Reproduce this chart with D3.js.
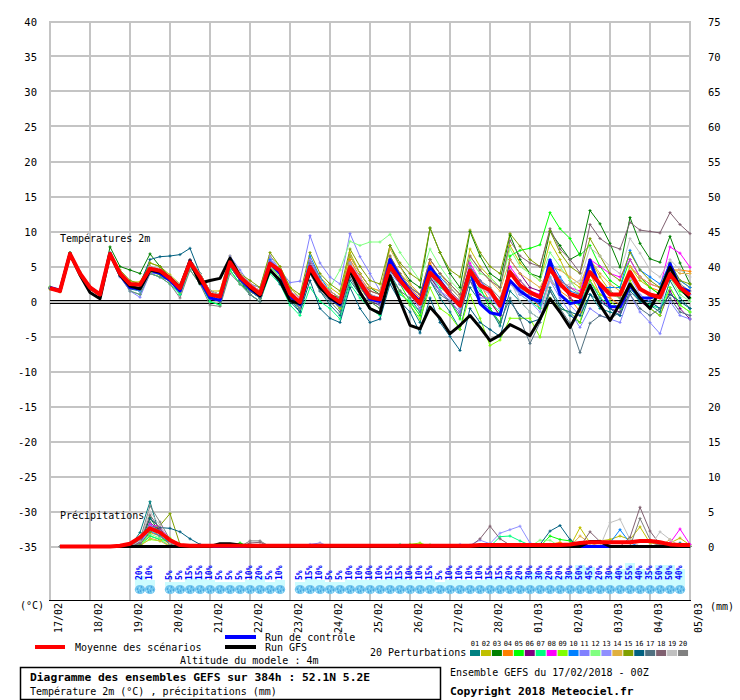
<!DOCTYPE html>
<html>
<head>
<meta charset="utf-8">
<script src="https://cdn.jsdelivr.net/npm/d3@7"></script>
<style>
  body { margin: 0; background: #fff; }
  text { font-family: "DejaVu Sans Mono", monospace; }
</style>
</head>
<body>
<div id="chart"></div>
<script>
/*global d3*/

// ---- data (6-hourly steps, 17/02 00Z -> 05/03 00Z) ----
const hours = d3.range(0, 385, 6)

const dateLabels = ["17/02","18/02","19/02","20/02","21/02","22/02","23/02","24/02","25/02",
  "26/02","27/02","28/02","01/03","02/03","03/03","04/03","05/03"]
const leftTicks = [40,35,30,25,20,15,10,5,0,-5,-10,-15,-20,-25,-30,-35]
const rightTicks = [75,70,65,60,55,50,45,40,35,30,25,20,15,10,5,0]

const memberNames = ["01","02","03","04","05","06","07","08","09","10","11","12","13","14","15","16","17","18","19","20"]
const memberColors = ["#008080","#c0c000","#008000","#ff8000","#00ff00","#800080","#00ff80","#ff00ff","#80ff00","#0080ff",
  "#8080ff","#80ff80","#9090ff","#e0b040","#80a000","#006080","#507080","#806070","#c0c0c0","#808080"]

// temperature 2m (°C)
const tMean = [1.9,1.5,6.8,4.0, 2.0,1.0,6.8,4.0, 2.5,2.4,4.7,4.4, 3.3,1.9,5.6,3.5, 1.0,0.7,5.6,3.5, 2.2,1.1,5.4,4.4,
  1.1,-0.1,4.9,2.6, 0.9,-0.1,4.9,2.7, 0.6,0.3,5.1,3.0, 1.3,-0.3,4.1,2.7, 0.9,-0.6,4.4,2.3, 1.6,-0.6,4.2,2.3,
  1.3,0.6,4.7,2.5, 1.1,0.6,4.2,2.5, 1.0,1.0,4.2,1.8, 1.0,0.6,3.9,2.0, 0.9]
const tControl = [2.0,1.6,6.8,4.0, 2.0,1.0,6.9,3.8, 2.0,1.8,4.5,4.0, 3.0,1.5,5.8,3.0, 0.5,0.2,5.8,3.3, 1.8,0.8,5.5,4.0,
  0.8,-0.5,5.0,2.2, 0.5,-0.5,4.8,2.5, 0.3,0.0,6.0,3.5, 1.5,0.0,5.0,3.0, 1.0,-0.5,4.5,-0.3, -1.6,-1.9,3.0,1.5,
  0.5,0.0,5.9,1.0, -0.3,0.0,5.9,2.0, -0.7,-0.8,2.3,0.5, 0.5,1.0,5.4,2.0, 1.4]
const tGfs = [1.9,1.5,6.8,3.8, 1.3,0.4,6.8,3.8, 2.2,1.8,4.5,4.2, 3.4,2.0,5.8,2.6, 3.0,3.3,6.2,3.6, 2.0,0.8,4.5,3.0,
  0.1,-0.3,4.4,2.0, 0.5,-0.3,4.4,1.3, -1.0,-1.7,3.7,0.1, -3.4,-3.9,-0.8,-2.4, -4.6,-3.4,-2.0,-3.7, -5.6,-4.8,-3.3,-4.0,
  -4.9,-2.5,0.4,-1.5, -3.7,-1.0,2.3,-0.5, -2.7,-0.3,2.5,0.5, -1.0,1.5,4.9,2.0, 0.4]

const t01 = [2.0,1.6,6.9,4.0, 1.9,0.8,6.9,3.6, 1.8,1.5,4.0,3.5, 3.0,1.0,5.5,3.0, 0.5,0.0,6.0,3.5, 1.5,0.5,5.0,3.5, 0.5,-1.5,4.0,1.5, -0.5,-2.0,3.0,1.0, -1.0,-1.5,4.0,1.5, -0.5,-3.0,3.0,0.5, -1.5,-4.0,2.0,0.0, -1.0,-3.5,1.5,0.0, -1.5,-2.5,2.0,-0.5, -2.0,-3.0,1.0,-1.0, -1.5,-2.0,2.5,0.0, -0.5,-1.5,3.0,0.5, -1.0]
const t02 = [1.8,1.5,6.8,4.1, 2.1,1.2,6.6,4.2, 2.8,2.8,5.5,5.0, 3.8,2.5,6.0,4.0, 1.5,1.5,6.5,4.0, 2.5,2.0,6.5,5.0, 2.0,0.5,6.0,3.5, 2.0,1.0,7.0,4.0, 2.0,1.5,6.5,4.0, 2.5,1.0,6.0,4.0, 2.5,1.0,7.5,5.0, 3.5,2.0,8.0,5.5, 4.0,3.0,8.5,6.0, 3.0,2.0,6.0,3.5, 1.5,0.5,5.0,3.0, 2.0,1.0,4.5,3.0, 2.0]
const t03 = [2.0,1.5,7.0,4.2, 2.1,1.0,7.8,5.0, 4.5,4.0,6.8,5.0, 3.5,2.0,6.0,4.0, 1.5,1.0,5.0,3.0, 1.5,0.5,5.5,4.0, 1.5,0.0,6.0,3.0, 1.0,0.5,6.5,4.0, 2.0,1.0,8.0,5.0, 3.0,2.0,10.5,7.0, 4.0,2.0,10.0,6.5, 4.0,3.0,9.5,6.0, 4.0,3.5,10.0,8.0, 6.0,6.8,13.0,11.1, 8.3,4.9,12.0,8.3, 6.1,5.6,9.3,5.5, 2.5]
const t04 = [1.9,1.4,6.7,3.9, 1.8,0.9,6.9,4.1, 2.2,1.8,4.5,4.0, 3.0,1.5,5.5,3.5, 0.8,0.5,5.8,3.8, 2.0,1.0,5.0,4.0, 1.0,-0.5,5.0,3.0, 1.0,0.0,6.0,3.5, 1.5,1.0,6.0,3.5, 2.0,0.5,5.5,3.0, 1.5,0.0,5.0,2.5, 0.0,-2.0,4.0,2.0, 1.0,-1.0,3.0,1.5, 0.5,-1.5,4.0,1.0, 0.5,-0.5,5.0,3.5, 2.0,1.5,4.5,4.5, 4.3]
const t05 = [2.1,1.7,6.9,4.1, 2.0,1.1,6.5,3.8, 2.0,1.5,4.5,4.0, 3.0,1.5,5.0,3.0, 0.0,-0.5,4.5,2.5, 1.5,0.5,5.0,3.5, 0.5,-1.0,4.5,2.0, 0.5,-0.5,5.0,2.5, 0.0,-0.5,4.5,2.5, 0.0,-2.0,3.5,1.5, 0.0,-2.5,4.5,2.0, -1.0,-3.0,6.5,7.3, 7.6,8.1,12.7,10.4, 9.0,6.6,8.0,5.0, 3.0,2.0,6.0,3.5, 2.0,1.0,4.0,1.5, 0.5]
const t06 = [1.9,1.5,6.8,4.0, 2.0,1.0,6.8,4.0, 2.5,2.0,5.0,4.5, 3.5,2.0,6.0,3.5, 1.0,0.5,5.5,3.5, 2.5,1.5,5.5,4.5, 1.5,0.0,5.0,2.5, 0.5,-1.0,4.0,2.0, 0.0,-0.5,4.5,2.5, 1.0,-1.0,3.5,1.5, 0.0,-1.5,3.0,1.0, 0.0,-2.0,6.0,4.0, 2.0,1.5,5.5,3.0, 0.5,-0.5,3.0,0.5, -1.0,-1.5,2.0,0.0, -1.0,-2.0,1.5,-1.0, -2.5]
const t07 = [1.9,1.5,6.8,3.8, 1.9,0.8,6.7,3.7, 1.5,1.0,4.0,3.5, 2.5,1.0,4.5,2.5, 0.0,-0.5,4.5,2.5, 1.0,0.0,4.0,2.5, -0.5,-2.0,2.0,0.0, -1.0,-2.5,2.5,0.5, -1.0,-2.0,3.0,1.0, 0.0,-1.5,4.0,2.0, 1.0,-1.0,3.5,1.5, 0.0,-1.5,3.0,1.0, 0.0,-1.0,3.5,1.0, 0.0,-0.5,3.0,0.5, -0.5,-1.0,2.0,0.0, -0.5,-1.0,2.0,-0.5, -1.5]
const t08 = [1.9,1.6,6.8,4.0, 2.0,1.0,6.8,4.2, 2.6,2.5,4.8,4.5, 3.5,2.0,5.5,3.5, 1.5,1.0,6.0,4.0, 2.5,1.5,6.0,4.5, 1.5,0.5,6.0,3.0, 1.5,0.5,5.5,3.5, 1.0,0.5,5.5,3.5, 1.5,0.0,5.0,3.0, 1.5,0.0,5.5,3.0, 1.0,-0.5,5.0,3.0, 1.5,1.0,5.0,3.0, 2.0,1.5,6.0,5.0, 4.0,3.5,6.0,3.5, 2.5,2.0,7.8,6.9, 4.9]
const t09 = [1.8,1.4,6.7,3.9, 1.8,0.7,6.6,3.8, 2.0,1.8,4.2,3.8, 2.8,1.3,5.0,3.0, 0.5,0.0,5.0,3.0, 1.5,0.5,5.0,3.5, 0.5,-1.0,4.5,2.0, 0.5,-1.0,4.0,2.0, 0.0,-1.0,3.5,1.5, -0.5,-2.5,2.0,-1.0, -2.0,-4.0,1.0,-2.4, -6.3,-5.5,-2.4,-2.4, -2.4,-5.1,0.5,-1.0, -1.5,-3.0,3.0,1.0, 0.0,-1.0,3.0,0.5, -1.0,-2.0,2.0,-0.5, -1.5]
const t10 = [1.9,1.5,6.9,4.0, 2.0,1.1,6.9,3.9, 2.0,1.5,4.8,4.3, 3.2,1.8,5.8,3.2, 0.5,0.2,5.5,3.5, 2.0,1.0,6.0,4.5, 1.5,0.0,6.5,3.5, 1.5,0.5,5.5,3.0, 1.0,0.5,6.0,3.5, 2.0,1.0,5.0,3.5, 2.0,0.5,5.0,3.0, 1.5,0.0,4.0,2.0, 0.5,-0.5,6.0,3.5, 1.5,1.0,4.0,2.0, 2.0,2.0,7.3,4.5, 3.5,2.5,5.5,3.0, 2.0]
const t11 = [1.9,1.5,6.8,4.0, 2.0,1.0,6.8,3.5, 1.5,0.6,4.0,4.0, 3.0,1.5,6.0,4.0, 1.5,1.0,6.5,4.5, 2.5,2.0,6.5,4.5, 2.7,2.9,9.4,5.5, 3.5,2.5,9.7,6.4, 4.0,1.5,5.5,3.0, 1.5,0.0,4.0,1.5, 0.0,-1.5,3.0,0.5, 0.5,-1.0,2.5,1.0, 1.0,0.5,3.0,0.5, -1.5,-3.7,-1.0,-2.0, -2.5,-3.0,1.0,-1.5, -3.0,-4.6,0.0,-2.0, -2.5]
const t12 = [1.9,1.5,6.8,4.0, 2.0,1.0,6.8,4.0, 2.5,2.2,4.5,4.0, 3.0,1.5,5.5,3.5, 1.0,0.5,5.5,3.5, 2.0,1.0,5.0,3.5, 1.0,-0.5,4.0,2.0, 2.0,4.5,8.6,8.0, 8.5,8.5,9.6,7.0, 5.0,3.0,7.5,5.0, 3.0,1.5,6.0,4.0, 3.5,2.0,7.5,5.0, 4.0,3.0,7.0,5.0, 3.0,1.0,5.0,2.5, 1.0,0.5,4.5,2.0, 0.5,0.0,3.5,1.0, 0.0]
const t13 = [2.0,1.6,6.8,4.0, 1.9,1.0,6.9,4.0, 2.0,1.5,4.5,4.0, 3.0,1.5,5.0,3.0, 0.5,0.0,5.0,3.0, 1.5,0.5,5.0,4.0, 1.0,-1.0,6.0,3.0, 1.0,0.0,5.0,2.5, 0.5,-0.5,4.0,2.5, 1.0,-1.0,3.0,1.5, 0.5,-1.0,4.0,2.0, 1.0,-1.0,3.0,1.0, 0.0,-1.5,3.5,1.0, -0.5,-2.0,2.5,0.0, -1.0,-2.0,3.5,1.0, 0.0,-1.0,4.5,2.0, 1.0]
const t14 = [1.9,1.5,6.8,4.1, 2.0,1.0,6.7,4.0, 2.5,2.0,4.5,4.5, 3.5,2.0,5.5,3.5, 1.0,1.0,6.0,4.0, 2.5,1.5,5.5,4.5, 1.5,0.0,5.0,3.0, 1.5,0.5,6.5,4.0, 2.0,1.5,7.5,5.0, 2.5,1.0,6.0,4.0, 2.0,0.5,6.5,4.5, 3.0,1.5,6.0,4.0, 3.0,2.0,5.0,4.5, 3.5,2.5,6.0,4.0, 2.5,1.5,5.0,3.5, 2.5,2.0,5.0,4.0, 4.0]
const t15 = [2.0,1.5,6.9,4.1, 2.0,1.0,6.9,4.5, 3.0,2.5,5.5,5.0, 3.5,2.0,6.0,4.0, 1.5,1.0,6.0,4.0, 3.0,2.0,7.0,5.0, 2.0,1.0,7.0,4.0, 2.5,1.5,7.5,5.0, 3.0,2.5,8.0,5.5, 4.0,3.0,10.5,7.0, 4.5,3.5,10.2,7.0, 5.0,4.0,9.7,7.9, 6.0,5.0,10.1,7.0, 5.0,4.0,9.0,6.5, 4.0,3.0,7.0,4.5, 3.0,2.0,5.5,3.0, 2.5]
const t16 = [1.9,1.5,6.8,4.0, 2.0,1.0,6.8,4.0, 2.5,2.5,6.0,6.4, 6.5,6.7,7.6,4.0, 1.0,0.0,5.0,3.0, 1.0,0.0,4.5,2.5, 0.0,-1.5,3.0,-1.0, -2.4,-3.0,2.0,-1.0, -3.0,-2.5,2.5,0.0, -1.5,-4.5,0.5,-3.0, -5.0,-7.0,-1.0,-3.0, -4.0,-5.0,0.0,-2.0, -3.0,-2.5,1.5,-1.0, -1.5,-2.0,1.0,0.0, -1.0,-2.0,1.5,0.0, 0.0,-1.0,1.0,0.0, -1.0]
const t17 = [1.9,1.5,6.7,4.0, 1.9,0.9,6.8,4.0, 2.3,2.0,4.5,4.2, 3.0,1.5,5.0,3.0, 0.5,0.0,5.0,3.0, 1.5,0.5,4.5,3.0, 0.5,-1.0,4.0,1.5, 0.0,-1.5,3.5,1.0, 0.0,-1.0,3.5,1.5, 0.5,-1.5,3.0,1.0, 0.0,-2.0,3.0,0.0, -1.5,-3.0,0.5,-2.5, -6.0,-3.0,1.6,-1.0, -3.1,-7.3,-3.1,-2.0, -2.5,-1.5,1.0,-1.0, -2.0,-1.0,0.5,-1.5, -2.0]
const t18 = [1.9,1.5,6.8,4.0, 2.0,1.0,6.8,4.0, 2.5,2.0,5.0,4.5, 3.5,2.0,6.0,3.5, 1.0,0.5,5.5,3.5, 2.0,1.0,5.5,4.0, 1.5,0.0,5.5,3.0, 1.0,0.0,5.5,3.0, 1.5,1.0,6.5,4.0, 2.0,1.0,6.0,4.0, 2.5,1.0,6.5,4.5, 3.0,2.0,8.7,6.5, 5.5,5.0,10.4,7.5, 6.0,4.1,11.0,9.0, 8.0,7.5,11.3,10.2, 10.0,9.8,12.7,11.0, 9.7]
const t19 = [1.9,1.5,6.8,4.0, 2.0,1.0,6.8,4.0, 2.5,2.0,5.0,4.5, 3.5,2.5,6.0,4.0, 1.5,1.0,6.0,4.0, 2.5,1.5,5.5,4.5, 1.5,0.5,5.0,3.0, 1.0,0.0,5.5,3.5, 1.0,0.5,5.5,3.0, 1.0,-0.5,5.0,3.0, 1.0,-0.5,4.5,2.0, 1.0,-0.5,3.0,0.0, -1.5,-2.5,3.0,2.0, 2.5,3.0,7.7,6.5, 5.0,4.0,9.0,6.9, 4.5,3.5,6.0,4.5, 3.5]
const t20 = [1.9,1.4,6.9,4.0, 1.8,0.7,6.7,3.6, 1.5,1.0,4.0,3.5, 2.5,0.5,4.5,2.5, -0.5,-0.7,4.0,2.5, 1.0,0.0,4.5,3.0, 0.5,-1.0,4.5,2.0, 0.5,-0.5,4.5,2.5, 1.0,0.0,5.0,3.0, 1.5,0.0,4.5,3.0, 1.5,0.0,5.0,3.0, 2.0,0.5,4.5,3.0, 1.5,0.5,5.0,3.0, 2.0,1.0,5.0,2.5, 1.5,0.5,4.0,2.0, 1.0,0.5,4.0,2.5, 1.5]
const tMembers = [t01,t02,t03,t04,t05,t06,t07,t08,t09,t10,t11,t12,t13,t14,t15,t16,t17,t18,t19,t20]

// precipitation (mm per 6h), first step has no value
const pMean = [null,0,0,0,0,0,0,0.1, 0.4,1.3,2.6,2.0,0.9,0.2,0.1,0.1, 0.1,0.1,0.1,0.1,0.1,0.1,0.1,0.1, 0.1,0.1,0.1,0.1,0.1,0.1,0.1,0.1,
  0.1,0.1,0.1,0.1,0.1,0.1,0.1,0.1, 0.1,0.1,0.1,0.2,0.2,0.2,0.2,0.2, 0.2,0.2,0.2,0.2,0.3,0.5,0.6,0.6, 0.6,0.6,0.6,0.8,0.8,0.6,0.3,0.2, 0.2]
const pControl = [null,0,0,0,0,0,0,0, 0,0,0,0,0,0,0,0, 0,0,0,0,0,0,0,0, 0,0,0,0,0,0,0,0,
  0,0,0,0,0,0,0,0, 0,0,0,0,0,0,0,0, 0,0,0,0,0,0,0,0, 0,0,0,0,0,0,0,0, 0]
const pGfs = [null,0,0,0,0,0,0,0, 0,0,0,0,0,0,0,0, 0,0.4,0.4,0.2,0,0,0,0, 0,0,0,0,0,0,0,0,
  0,0,0,0,0,0,0,0, 0,0,0,0,0,0,0,0, 0,0,0,0,0,0,0.7,0.7, 0,0,0,0,0,0,0,0, 0]

const p01 = [null,0,0,0,0,0,0,0, 0,2.0,6.4,1.5,0.3,0,0,0, 0,0,0,0,0,0,0,0, 0,0,0,0,0,0,0,0, 0,0,0,0,0,0,0,0, 0,0,0,0,0,0,0,0, 0,0,0,0,0,0,0,0, 0,0,0,0,0,0,0,0.5, 0]
const p02 = [null,0,0,0,0,0,0,0, 0,0.5,2.5,1.5,0.5,0,0,0, 0,0,0,0,0,0,0,0, 0,0,0,0,0,0,0,0, 0,0,0,0,0,0,0,0, 0,0,0,0,0,0,0,0, 0,0,0,0,0,2.7,0.5,0.8, 1.0,1.5,1.0,2.8,0.5,0.3,0.5,1.2, 0.2]
const p03 = [null,0,0,0,0,0,0,0, 0,0.3,4.1,2.0,0.5,0,0,0, 0,0,0,0,0,0,0,0, 0,0,0,0,0,0,0,0, 0,0,0,0,0.2,0,0,0, 0,0,0,0,0,0,0,0, 0,0,0,0,0,0,0,0, 0,0,0,0,0,0,0,0, 0]
const p04 = [null,0,0,0,0,0,0,0, 0.3,1.0,2.0,1.5,0.2,0,0,0, 0,0,0,0,0,0,0,0, 0,0,0,0,0,0,0,0, 0,0,0,0,0,0,0,0, 0,0,0,0,0,0,0,0, 0,0,0.3,0.6,0,0,0,0, 0,0,0,0,0,0,0,0, 0]
const p05 = [null,0,0,0,0,0,0,0, 0,0.2,1.5,1.0,0.8,0,0,0, 0,0,0,0.5,0,0,0,0, 0,0,0,0,0,0,0,0, 0,0,0,0,0,0,0,0, 0,0,0,0,0,0,0,0, 0,0,1.5,1.0,0.8,0,0,0, 0,0,0,0,0,0,0,0, 0]
const p06 = [null,0,0,0,0,0,0,0, 0,0.5,3.0,2.5,1.0,0,0,0, 0,0,0,0,0,0,0,0, 0,0,0,0,0,0,0,0, 0,0,0,0,0,0,0,0, 0,0,0,0,0,0,0,0, 0,0,0,0,0,0,0,0, 0,0,0,0,0,0,0,0, 0]
const p07 = [null,0,0,0,0,0,0,0, 0,0.3,1.5,1.0,0,0,0,0, 0,0,0,0,0,0,0,0, 0,0,0,0,0,0,0,0, 0,0,0,0.3,0,0,0,0, 0,0,0,0,0,1.4,1.5,0.8, 0.2,0,0,0,0,0,0,0, 0,0,0,0,0,0,0,0, 0]
const p08 = [null,0,0,0,0,0,0,0, 0,0.4,3.2,2.8,1.0,0,0,0, 0,0,0,0,0,0,0,0, 0,0,0,0,0,0,0,0, 0,0,0,0,0,0,0,0, 0,0,0,0,0,0,0,0, 0,0,0,0,0,0,0,0, 0,0,0,0,0,0,0.5,2.5, 0.3]
const p09 = [null,0,0,0,0,0,0,0, 0,0.2,1.0,0.8,1.2,0.3,0,0, 0,0,0,0,0,0,0,0, 0,0,0,0,0,0,0,0, 0,0,0,0,0.3,0.5,0,0, 0,0,0,0,0,0,0,0, 0,0,0,0,0,0,0,0, 0,0,0,0,0,0,0,0, 0]
const p10 = [null,0,0,0,0,0,0,0, 0,0.3,2.2,1.5,0.5,0,0,0, 0,0,0,0,0,0,0,0, 0,0,0,0,0,0,0,0, 0,0,0,0,0,0,0,0, 0,0,0,0,0,0,0,0, 0,0,0,0,0,0,0,0, 0.5,2.4,0.5,0,0,0,0,0, 0]
const p11 = [null,0,0,0,0,0,0,0, 0,0.6,3.0,2.2,0.8,0,0,0, 0,0,0,0,0,0,0,0, 0,0,0.3,0.5,0,0,0,0, 0,0,0,0,0,0,0,0, 0,0,0,0,0,0,0,0, 0,0,0,0,0,0,0,0, 0,0,0,0,0,0,0,0, 0]
const p12 = [null,0,0,0,0,0,0,0, 0,0.2,1.8,1.2,0,0,0,0, 0,0,0,0.3,0,0,0,0, 0,0,0,0,0,0,0,0, 0,0,0,0,0,0,0.3,0, 0,0,0,0,0,0,0,0, 0,0.9,0.9,0,0,0,0,0, 0,0,0,0,0,0,0,0, 0]
const p13 = [null,0,0,0,0,0,0,0, 0,0.4,2.6,2.0,0.6,0,0,0, 0,0,0,0,0,0,0,0, 0,0,0,0,0,0,0,0, 0,0,0,0,0,0,0,0, 0,0.3,0.2,0.9,0.4,1.9,2.4,2.9, 0.5,0,0,0,0,0,0,0, 0,0,0,0,0,0,0,0, 0]
const p14 = [null,0,0,0,0,0,0,0, 0,0,1.2,0.8,0,0,0,0, 0,0,0,0,0,0,0,0, 0,0,0,0,0,0,0,0, 0,0,0,0,0,0,0,0, 0,0,0,0,0,0,0,0, 0,0,0,0,0,1.5,0.5,0, 0,0,0,0,0,0,1.0,0, 0]
const p15 = [null,0,0,0,0,0,0,0, 0,0.3,2.0,3.0,4.7,0.3,0,0, 0,0,0,0,0,0,0,0, 0,0,0,0,0,0,0,0, 0,0,0,0,0,0,0,0, 0,0,0,0,0,0,0,0, 0,0,0,0,0,0,0,0, 0,0,0,0,0,0,0,0, 0]
const p16 = [null,0,0,0,0,0,0,0, 0,1.0,4.0,2.7,2.6,2.1,1.1,0.3, 0,0,0,0,0,0,0,0, 0,0,0,0,0,0,0,0, 0,0,0,0,0,0,0,0, 0,0,0,0,0,0,0,0, 0,0.3,2.2,3.0,1.0,0,0,0, 0,0,0,0,0,0,0,0, 0]
const p17 = [null,0,0,0,0,0,0,0, 0,0.5,3.5,2.0,0.8,0,0,0, 0,0,0,0,0,0,0,0, 0,0,0,0,0,0,0,0, 0,0,0,0,0,0,0,0, 0,0,0,0,0,0,0,0, 0,0,0,0,0,0,0,0, 0,0,0,0,0,0.4,0,0, 0]
const p18 = [null,0,0,0,0,0,0,0, 0,0.6,4.5,2.5,0.5,0,0,0, 0,0,0,0,0.5,0.6,0,0, 0,0,0,0,0,0,0,0, 0,0,0,0,0,0,0,0, 0,0,0,1.1,2.9,1.1,0.2,0, 0,0,0,0,0,0,2.1,0.7, 0,0,1.3,5.6,2.2,0.3,0,0, 0]
const p19 = [null,0,0,0,0,0,0,0, 0,0.8,5.0,3.0,0.5,0,0,0, 0,0,0,0,0,0,0,0, 0,0,0,0.4,0,0,0,0, 0,0,0,0,0,0,0,0, 0,0,0,0,0,0,0,0, 0,0,0,0,0,0,0,0, 3.4,3.9,1.0,0,0,2.1,1.0,0, 0]
const p20 = [null,0,0,0,0,0,0,0, 0,1.0,5.8,3.5,1.0,0,0,0, 0,0,0,0,0.8,0.8,0,0, 0,0,0,0,0,0,0,0, 0,0,0,0,0,0,0,0, 0,0,0,0,0,0,0,0, 0,0,0,0,0,0,0,0, 0,0,0,4.0,1.0,0,0,0, 0]
const pMembers = [p01,p02,p03,p04,p05,p06,p07,p08,p09,p10,p11,p12,p13,p14,p15,p16,p17,p18,p19,p20]

// probability of precipitation (%) per 6h step
const popSteps = [9,10, 12,13,14,15,16,17,18,19,20,21,22,23,
  25,26,27,28,29,30,31,32,33,34,35,36,37,38,39,40,41,42,43,44,45,46,47,48,49,50,51,52,53,54,55,56,57,58,59,60,61,62,63]
const popValues = [20,10, 5,5,15,15,10,5,5,5,10,20,5,10,
  5,15,10,5,5,10,10,10,10,15,15,10,10,15,5,10,10,10,10,15,15,20,20,30,30,20,20,30,50,45,20,30,40,55,40,35,50,50,40]

// ---- drawing ----
const width = 740, height = 700
const plot = {left: 50, right: 690, top: 22, bottom: 600}

const svg = d3.select("#chart")
  .append("svg")
    .attr("width", width)
    .attr("height", height)

const x = d3.scaleLinear().domain([0, 384]).range([plot.left, plot.right])
const yT = d3.scaleLinear().domain([-35, 40]).range([546.5, 21.5])
const yP = d3.scaleLinear().domain([0, 75]).range([546.5, 21.5])
const popH = d3.scaleLinear().domain([0, 100]).range([2, 40])

// grid
const grid = svg.append("g").attr("shape-rendering", "crispEdges")
grid.selectAll("line.h")
  .data(leftTicks)
  .join("line")
    .attr("x1", plot.left).attr("x2", plot.right)
    .attr("y1", d => Math.round(yT(d))).attr("y2", d => Math.round(yT(d)))
    .attr("stroke", "#c4c4c4").attr("stroke-width", 2)
grid.selectAll("line.v")
  .data(dateLabels)
  .join("line")
    .attr("x1", (d, i) => x(i * 24)).attr("x2", (d, i) => x(i * 24))
    .attr("y1", plot.top - 1).attr("y2", plot.bottom)
    .attr("stroke", "#c4c4c4").attr("stroke-width", 2)

// bottom axis line
svg.append("line")
  .attr("x1", plot.left - 1).attr("x2", plot.right + 1)
  .attr("y1", plot.bottom + 0.5).attr("y2", plot.bottom + 0.5)
  .attr("stroke", "#000").attr("shape-rendering", "crispEdges")

// double zero line
const y0 = Math.round(yT(0))
svg.append("g").attr("shape-rendering", "crispEdges")
  .selectAll("line")
  .data([y0 - 1.5, y0 + 1.5])
  .join("line")
    .attr("x1", plot.left).attr("x2", plot.right)
    .attr("y1", d => d).attr("y2", d => d)
    .attr("stroke", "#000").attr("stroke-width", 1)

// axis labels
svg.append("g").selectAll("text")
  .data(leftTicks)
  .join("text")
    .attr("x", 37).attr("y", d => yT(d) + 4)
    .attr("text-anchor", "end").attr("font-size", 10.5)
    .text(d => d)
svg.append("g").selectAll("text")
  .data(rightTicks)
  .join("text")
    .attr("x", 708).attr("y", d => yP(d) + 4)
    .attr("font-size", 10.5)
    .text(d => d)

svg.append("g").selectAll("text")
  .data(dateLabels)
  .join("text")
    .attr("transform", (d, i) => `translate(${x(i * 24) + 12},603) rotate(-90)`)
    .attr("text-anchor", "end").attr("font-size", 10)
    .text(d => d)

svg.append("text").attr("x", 20).attr("y", 609).attr("font-size", 10).text("(°C)")
svg.append("text").attr("x", 710).attr("y", 610).attr("font-size", 10).text("(mm)")

svg.append("text").attr("x", 60).attr("y", 242).attr("font-size", 10).text("Températures 2m")
svg.append("text").attr("x", 60).attr("y", 519).attr("font-size", 10).text("Précipitations")

// probability bars, labels and snow icons
const pop = popSteps.map((k, i) => ({k: k, v: popValues[i]}))
const popG = svg.append("g")
popG.selectAll("rect")
  .data(pop)
  .join("rect")
    .attr("x", d => x(hours[d.k]) - 5).attr("width", 10)
    .attr("y", d => 586 - popH(d.v)).attr("height", d => popH(d.v))
    .attr("fill", "#ccfcff").attr("shape-rendering", "crispEdges")
popG.selectAll("text")
  .data(pop)
  .join("text")
    .attr("transform", d => `translate(${x(hours[d.k]) + 2},580) rotate(-90)`)
    .attr("font-size", 8).attr("font-weight", "bold").attr("fill", "#0000ff")
    .text(d => d.v + "%")
const icons = popG.selectAll("g.icon")
  .data(pop)
  .join("g")
    .attr("class", "icon")
    .attr("transform", d => `translate(${x(hours[d.k])},589.5)`)
icons.append("ellipse").attr("rx", 5.2).attr("ry", 4.5).attr("fill", "#6fc6ee")
icons.append("path")
  .attr("d", "M-3,-1h1v1h-1zM1,-3h1v1h-1zM0,1h1v1h-1zM3,0h1v1h-1zM-2,2h1v1h-1z")
  .attr("fill", "#2b86d0")
icons.append("path")
  .attr("d", "M-1,-2h1v1h-1zM2,2h1v1h-1zM-4,1h1v1h-1z")
  .attr("fill", "#d8f6ff")

// series helpers
const lineT = d3.line()
  .defined(d => d !== null)
  .x((d, i) => x(hours[i]))
  .y(d => yT(d))
const lineP = d3.line()
  .defined(d => d !== null)
  .x((d, i) => x(hours[i]))
  .y(d => yP(d))
function crosses(values, scale) {
  return values.map((v, i) => v === null ? "" :
    `M${x(hours[i]) - 1.5},${scale(v)}h3M${x(hours[i])},${scale(v) - 1.5}v3`).join("")
}

function drawMembers(members, line, scale) {
  const g = svg.append("g")
  g.selectAll("path.l")
    .data(members)
    .join("path")
      .attr("class", "l")
      .attr("d", d => line(d))
      .attr("fill", "none")
      .attr("stroke", (d, i) => memberColors[i])
      .attr("stroke-width", 1)
  g.selectAll("path.m")
    .data(members)
    .join("path")
      .attr("class", "m")
      .attr("d", d => crosses(d, scale))
      .attr("fill", "none")
      .attr("stroke", (d, i) => memberColors[i])
      .attr("stroke-width", 1)
}

drawMembers(pMembers, lineP, yP)
drawMembers(tMembers, lineT, yT)

const mains = [
  {t: tControl, p: pControl, color: "#0000ff", w: 3},
  {t: tGfs, p: pGfs, color: "#000000", w: 3},
  {t: tMean, p: pMean, color: "#ff0000", w: 4}
]
mains.forEach(function(s) {
  svg.append("path").attr("d", lineP(s.p)).attr("fill", "none")
    .attr("stroke", s.color).attr("stroke-width", s.w).attr("stroke-linejoin", "round")
  svg.append("path").attr("d", lineT(s.t)).attr("fill", "none")
    .attr("stroke", s.color).attr("stroke-width", s.w).attr("stroke-linejoin", "round")
})

// legend
const leg = svg.append("g")
leg.append("line").attr("x1", 35).attr("x2", 65).attr("y1", 647).attr("y2", 647)
  .attr("stroke", "#ff0000").attr("stroke-width", 4)
leg.append("text").attr("x", 75).attr("y", 651).attr("font-size", 10).text("Moyenne des scénarios")
leg.append("line").attr("x1", 225).attr("x2", 256).attr("y1", 637).attr("y2", 637)
  .attr("stroke", "#0000ff").attr("stroke-width", 4)
leg.append("text").attr("x", 265).attr("y", 641).attr("font-size", 10).text("Run de contrôle")
leg.append("line").attr("x1", 225).attr("x2", 256).attr("y1", 647).attr("y2", 647)
  .attr("stroke", "#000000").attr("stroke-width", 4)
leg.append("text").attr("x", 265).attr("y", 651).attr("font-size", 10).text("Run GFS")
leg.append("text").attr("x", 180).attr("y", 664).attr("font-size", 10).text("Altitude du modele : 4m")
leg.append("text").attr("x", 370).attr("y", 656).attr("font-size", 10).text("20 Perturbations")

leg.selectAll("rect")
  .data(memberNames)
  .join("rect")
    .attr("x", (d, i) => 470 + i * 10.95).attr("y", 650)
    .attr("width", 10).attr("height", 6)
    .attr("fill", (d, i) => memberColors[i])
leg.selectAll("text.num")
  .data(memberNames)
  .join("text")
    .attr("class", "num")
    .attr("x", (d, i) => 475 + i * 10.95).attr("y", 646)
    .attr("text-anchor", "middle").attr("font-size", 7)
    .text(d => d)

// title box
svg.append("rect")
  .attr("x", 20.5).attr("y", 667.5).attr("width", 420).attr("height", 32)
  .attr("fill", "none").attr("stroke", "#000").attr("stroke-width", 1.5)
svg.append("text").attr("x", 30).attr("y", 681).attr("font-size", 11.3).attr("font-weight", "bold")
  .text("Diagramme des ensembles GEFS sur 384h : 52.1N 5.2E")
svg.append("text").attr("x", 30).attr("y", 695).attr("font-size", 10)
  .text("Température 2m (°C) , précipitations (mm)")
svg.append("text").attr("x", 450).attr("y", 676).attr("font-size", 10)
  .text("Ensemble GEFS du 17/02/2018 - 00Z")
svg.append("text").attr("x", 450).attr("y", 695).attr("font-size", 11.3).attr("font-weight", "bold")
  .text("Copyright 2018 Meteociel.fr")
</script>
</body>
</html>
